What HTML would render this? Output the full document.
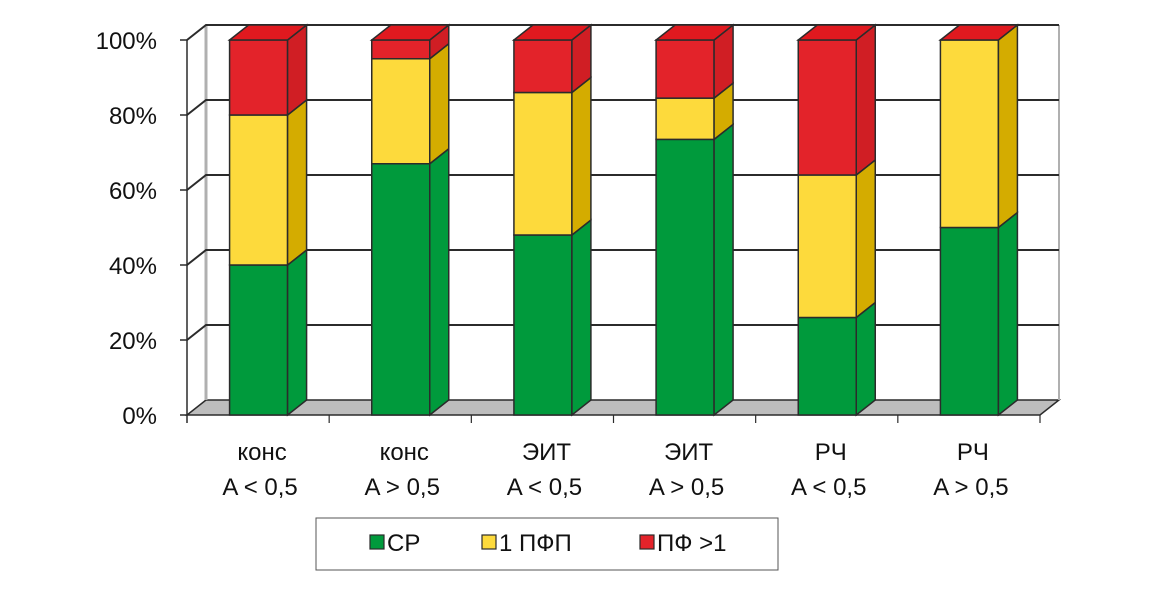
<!DOCTYPE html>
<html><head><meta charset="utf-8"><style>
body{margin:0;background:#fff}
svg text{font-family:"Liberation Sans",sans-serif;font-size:24px;fill:#111}
</style></head><body>
<svg id="chart" width="1161" height="606" viewBox="0 0 1161 606" xmlns="http://www.w3.org/2000/svg"></svg>
<script>
const categoriesLine1 = ["конс","конс","ЭИТ","ЭИТ","РЧ","РЧ"];
const categoriesLine2 = ["A < 0,5","A > 0,5","A < 0,5","A > 0,5","A < 0,5","A > 0,5"];
const seriesNames = ["СР","1 ПФП","ПФ >1"];
const seriesCP = [40,67,48,73.5,26,50];
const seriesPFP = [40,28,38,11,38,50];
const seriesPF = [20,5,14,15.5,36,0];
const yTicks = [0,20,40,60,80,100];

const svg = document.getElementById('chart');
const NS = "http://www.w3.org/2000/svg";
const X0=187, X1=1040, Y0=415, Y100=40, DX=19, DY=-15;
const yScale = v => Y0 - (Y0-Y100)*v/100;
const catW = (X1-X0)/categoriesLine1.length;
const xCenter = i => X0 + catW*(i+0.5);
function el(tag, attrs, name, inter){
  const e=document.createElementNS(NS,tag);
  for(const k in attrs) e.setAttribute(k,attrs[k]);
  
  
  svg.appendChild(e); return e;
}
const stroke="#2b2b2b";
el('polygon',{points:`${X0},${Y0} ${X1},${Y0} ${X1+DX},${Y0+DY} ${X0+DX},${Y0+DY}`,fill:"#bdbdbd",stroke:stroke,'stroke-width':1.5},'floor',false);
el('line',{x1:X0+DX,y1:Y100+DY,x2:X0+DX,y2:Y0+DY,stroke:"#b0b0b0",'stroke-width':3},'back-wall-left-edge',false);
el('line',{x1:X1+DX,y1:Y100+DY,x2:X1+DX,y2:Y0+DY,stroke:"#b0b0b0",'stroke-width':2},'back-wall-right-edge',false);
yTicks.forEach(t=>{
  const y=yScale(t);
  if(t>0){
    el('polyline',{points:`${X0},${y} ${X0+DX},${y+DY} ${X1+DX},${y+DY}`,fill:"none",stroke:stroke,'stroke-width':2},'gridline-'+t,false);
  }
  el('line',{x1:X0-7,y1:y,x2:X0,y2:y,stroke:stroke,'stroke-width':1.5},'y-tick-'+t,false);
  const tx=el('text',{x:157,y:y+9,'text-anchor':'end'},'y-tick-label-'+t,false);
  tx.textContent=t+'%';
});
el('line',{x1:X0,y1:Y100,x2:X0,y2:Y0+8,stroke:stroke,'stroke-width':1.5},'y-axis',false);
for(let i=1;i<=categoriesLine1.length;i++){
  const x=X0+catW*i;
  el('line',{x1:x,y1:Y0,x2:x,y2:Y0+8,stroke:stroke,'stroke-width':1.2},'x-tick-'+i,false);
}
const colors=[["#009a3c","#009a3c","#009a3c"],["#fdda3c","#d4ac00","#fdda3c"],["#e3232a","#d01e24","#e0191f"]];
const BW=58;
categoriesLine1.forEach((c,i)=>{
  const vals=[seriesCP[i],seriesPFP[i],seriesPF[i]];
  const xl=xCenter(i)-BW/2+0.5, xr=xl+BW;
  let cum=0;
  vals.forEach((v,s)=>{
    if(v<=0) return;
    const yb=yScale(cum), yt=yScale(cum+v); cum+=v;
    el('rect',{x:xl,y:yt,width:BW,height:yb-yt,fill:colors[s][0],stroke:stroke,'stroke-width':1.5},'bar-'+i+'-series-'+s,true);
    el('polygon',{points:`${xr},${yb} ${xr+DX},${yb+DY} ${xr+DX},${yt+DY} ${xr},${yt}`,fill:colors[s][1],stroke:stroke,'stroke-width':1.5},'bar-side-'+i+'-series-'+s,false);
  });
  const ytop=yScale(cum);
  el('polygon',{points:`${xl},${ytop} ${xr},${ytop} ${xr+DX},${ytop+DY} ${xl+DX},${ytop+DY}`,fill:colors[2][2],stroke:stroke,'stroke-width':1.5},'bar-top-'+i,false);
  const t1=el('text',{x:xCenter(i)+4,y:460,'text-anchor':'middle'},'x-label-line1-'+i,false); t1.textContent=c;
  const t2=el('text',{x:xCenter(i)+2,y:495,'text-anchor':'middle'},'x-label-line2-'+i,false); t2.textContent=categoriesLine2[i];
});
el('rect',{x:316,y:518,width:462,height:52,fill:"#fff",stroke:"#555",'stroke-width':1},'legend',false);
const lx=[370,482,640];
seriesNames.forEach((n,s)=>{
  el('rect',{x:lx[s],y:535,width:14,height:14,fill:colors[s][0],stroke:stroke,'stroke-width':1.2},'legend-swatch-'+s,false);
  const t=el('text',{x:lx[s]+17,y:551,'font-size':23},'legend-entry-'+s,false); t.textContent=n;
});
</script>
</body></html>
